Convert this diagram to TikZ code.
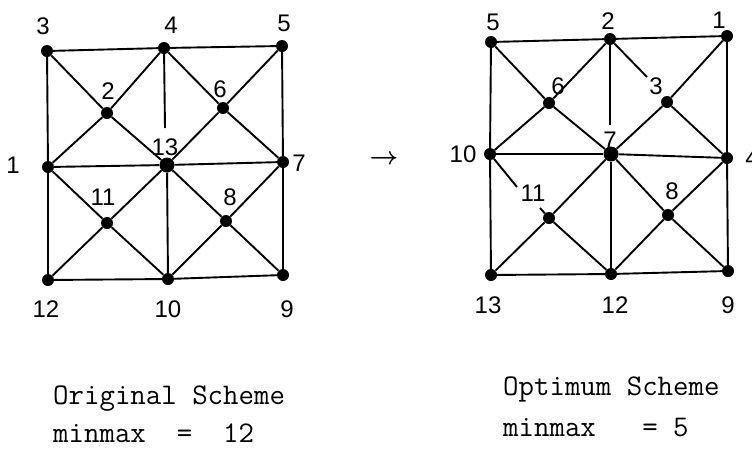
\documentclass[tikz,border=0pt]{standalone}
\usepackage{fontspec}
\newfontfamily\numfont{Liberation Sans}
\usepackage{tikz}
\usetikzlibrary{positioning}

\tikzset{
  dot/.style={circle,fill=black,inner sep=0pt,minimum size=12pt},
  bigdot/.style={dot,minimum size=15pt},
  lbl/.style={font=\numfont\fontsize{24}{24}\selectfont,inner sep=0pt},
  captxt/.style={font=\fontsize{30}{30}\ttfamily,inner sep=0pt,anchor=base west},
  link/.style={line width=1.9pt}
}

\begin{document}
\begin{tikzpicture}[x=1pt,y=-1pt]
\useasboundingbox (0,0) rectangle (752,448);
% original scheme
\foreach \n/\x/\y in {3/47/51,4/164/48,5/282/46,1/48/167,7/283/162,
  12/48/280,10/168/279,9/283/275,2/107/113,6/223/108,11/107/223,8/226/221}
  \node[dot] (l\n) at (\x,\y) {};
\node[bigdot] (l13) at (167,165) {};
\coordinate (l4end) at (165,128);
\foreach \a/\b in {3/4,4/5,5/7,7/9,9/10,10/12,12/1,1/3,1/13,13/7,13/10,
  3/2,2/13,4/2,2/1,4/6,6/7,5/6,6/13,1/11,11/10,13/11,11/12,13/8,8/9,7/8,8/10}
  \draw[link] (l\a) -- (l\b);
\draw[link] (l4) -- (l4end);
\foreach \n/\x/\y in {3/43/26,4/171/25,5/284/23,2/108/91,6/220/89,13/165/147,
  1/13/165,7/299/163,11/103/197,8/230/197,12/46/309,10/168/309,9/287/309}
  \node[lbl] (l\n txt) at (\x,\y) {\n};
% arrow
\node[inner sep=0pt,font=\fontsize{24}{24}\selectfont\boldmath] (arr) at (384,160) {$\rightarrow$};
% optimum scheme
\foreach \n/\x/\y in {5/491/42,2/610/39,1/727/36,10/490/154,4/727/158,
  13/491/275,12/611/274,9/728/271,6/549/103,3/667/102,11/549/218,8/668/215}
  \node[dot] (r\n) at (\x,\y) {};
\node[bigdot] (r7) at (611,154) {};
\coordinate (r2end) at (610,125);
\coordinate (r3end) at (647,77);
\coordinate (r11a) at (517,187);
\coordinate (r11b) at (540,208);
\foreach \a/\b in {5/2,2/1,1/4,4/9,9/12,12/13,13/10,10/5,10/7,7/4,7/12,
  5/6,6/7,2/6,6/10,3/4,1/3,3/7,11/12,7/11,11/13,7/8,8/9,4/8,8/12}
  \draw[link] (r\a) -- (r\b);
\draw[link] (r2) -- (r2end);
\draw[link] (r2) -- (r3end);
\draw[link] (r10) -- (r11a);
\draw[link] (r11b) -- (r11);
\foreach \n/\x/\y in {5/493/22,2/608/21,1/719/20,6/558/86,3/656/86,7/610/140,
  10/463/154,4/752/158,11/533/193,8/672/191,13/488/305,12/615/305,9/728/305}
  \node[lbl] (r\n txt) at (\x,\y) {\n};
% captions
\node[captxt] (orig) at (53,404) {Original Scheme};
\node[captxt] (origmm) at (53,442) {minmax\ \ =\ \ 12};
\node[captxt] (opt) at (503,395) {Optimum Scheme};
\node[captxt] (optmm) at (503,436) {minmax\ \ \ =\ 5};
\end{tikzpicture}
\end{document}
